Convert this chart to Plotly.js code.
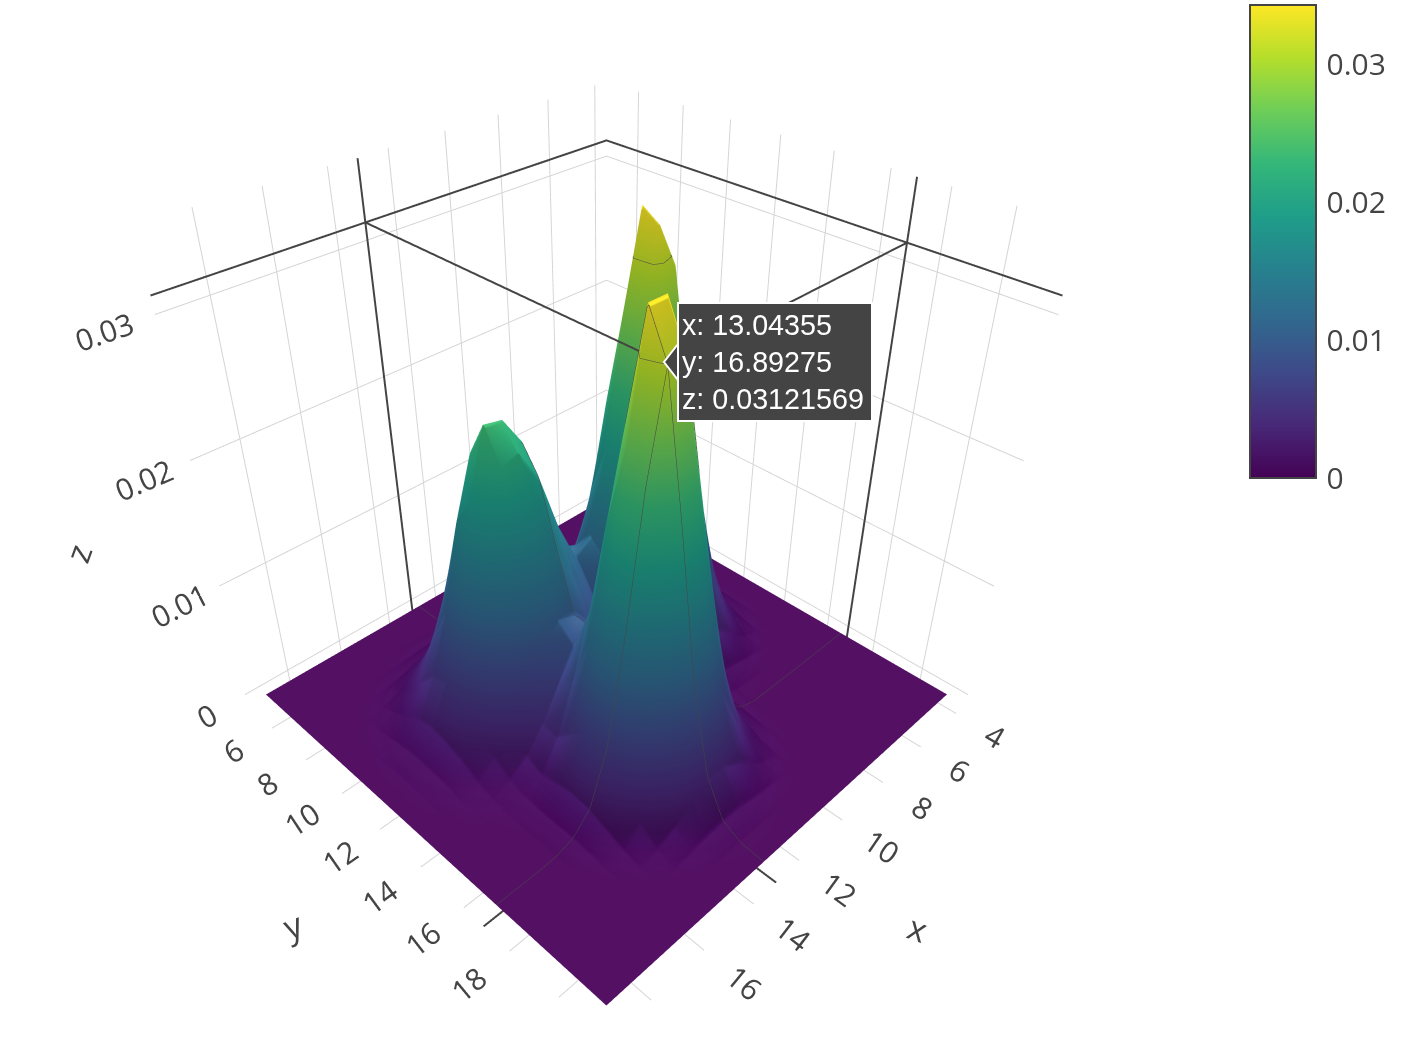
<!DOCTYPE html>
<html><head><meta charset="utf-8"><script src="https://cdn.plot.ly/plotly-3.0.1.min.js"></script>
<style>html,body{margin:0;padding:0;background:#fff;overflow:hidden}#g{width:1410px;height:1015px}</style></head>
<body><div id="g"></div><script>
const xs=[3.94,4.59,5.24,5.89,6.54,7.19,7.84,8.49,9.14,9.79,10.44,11.09,11.74,12.39,13.04355,13.69,14.34,14.99,15.64,16.29,16.94,17.59,18.24,18.89,19.1];
const ys=[4.99,5.69,6.39,7.09,7.79,8.49,9.19,9.89,10.59,11.29,11.99,12.69,13.39,14.09,14.79,15.49,16.19,16.89275,17.59,18.29,18.99,19.69,20.39,21.09,21.3];
const zUnit=1e-4;
const zRows=[
[0,0,0,0,0,0,0,0,0,0,0,0,0,0,0,0,0,0,0,0,0,0,0,0,0],
[0,0,0,0,0,0,0,0,0,0,0,0,0,0,0.2,0.2,0.2,0.2,0,0,0,0,0,0,0],
[0,0,0,0,0,0,0,0,0,0,0,0.2,0.5,0.7,1,1.1,1.1,0.8,0.5,0.3,0.1,0,0,0,0],
[0,0,0,0,0,0,0,0,0,0,0.4,0.9,1.8,3,4,4.7,4.4,3.4,2.2,1.2,0.5,0.2,0,0,0],
[0,0,0,0,0,0,0.3,0.4,0.4,0.8,1.4,3.1,6.1,10,14,16,15,11,7,4,2,0.7,0.2,0,0],
[0,0,0,0.1,0.4,1.1,2,3,3.4,3.8,4.9,8.9,16.6,27,37,41,39,30,20,10,5,2,0.5,0,0],
[0,0,0.2,0.6,2,5,10,14,16,15,15,21,36,58,79,89,84,65,42,22,10,4,1,0,0],
[0,0.1,0.5,2.3,7,18,34,48,53,47,39,43,65,100,136,154,150,113,73,39,17,6,2,0.3,0],
[0,0.2,1.4,6,19,46,87,124,136,116,86,75,96,141,189,214,210,165,101,54,24,9,3,0.5,0],
[0,0.4,2.5,11,35,86,161,230,250,211,146,107,116,160,212,234,237,185,113,60,27,10,3,0.6,0],
[0,0.6,3.4,15,47,116,217,311,343.5,281,189,124,114,147,192,216,210,165,102,54,24,9,3,0.6,0],
[0,0.6,3.3,14,46,114,213,305,335,275,182,112,93,112,143,159,148,115,74,39,18,7,2,0.4,0],
[0,0.4,2.4,10,33,82,152,218,236,197,130,82,69,82,99,104,93,70,44,23,10,4,1,0.2,0],
[0,0.2,1.2,5,17,42,79,113,123,105,77,63,72,89,98,89,67,43,24,12,5,2,0.5,0,0],
[0,0.1,0.5,2,6.5,16,30,43,48,47,51,76,118,156,161,129,81,41,17,7,2,0.7,0.2,0,0],
[0,0,0.2,0.5,1.8,4.3,8,11.5,16,26,54,113,195,260,265,205,122,56,20,6,1.4,0.2,0,0,0],
[0,0,0,0.1,0.3,0.8,1.6,2.2,7,22,62,141,248,342,342,260,153,68,23,6,1.2,0,0,0,0],
[0,0,0,0,0,0.3,0.5,0.7,5,19,57,132,232,311,312.1569,242,143,63,21,6,1.1,0,0,0,0],
[0,0,0,0,0,0,0,0.7,3,13,39,90,158,212,215,165,97,43,14,4,1,0.2,0,0,0],
[0,0,0,0,0,0,0,0.4,2,6,19,45,79,105,107,82,48,21,7,2,0.4,0,0,0,0],
[0,0,0,0,0,0,0,0.1,0.7,2,7,16,28,38,39,30,17,8,3,0.8,0.2,0,0,0,0],
[0,0,0,0,0,0,0,0,0.1,0.6,2,4,7,10,10,8,5,2,0.7,0.2,0,0,0,0,0],
[0,0,0,0,0,0,0,0,0,0,0.3,0.8,1.4,1.9,2,1.5,0.9,0.4,0.1,0,0,0,0,0,0],
[0,0,0,0,0,0,0,0,0,0,0,0,0.1,0.3,0.3,0.2,0.1,0,0,0,0,0,0,0,0],
[0,0,0,0,0,0,0,0,0,0,0,0,0,0,0,0,0,0,0,0,0,0,0,0,0]];
const zs=zRows.map(r=>r.map(v=>v*zUnit));
const xRange=[3.48,19.57],yRange=[4.49,21.81],zRange=[-0.00107,0.03542];
const hx=13.04355,hy=16.89275,hz=0.03121569;
const wx=xRange[0]+0.03,wy=yRange[0]+0.03,fz=zRange[0]+0.00004,tz=zRange[1]-0.00004;
const viridis=[[0,'#440154'],[0.1111,'#482878'],[0.2222,'#3e4989'],[0.3333,'#31688e'],[0.4444,'#26828e'],[0.5556,'#1f9e89'],[0.6667,'#35b779'],[0.7778,'#6ece58'],[0.8889,'#b5de2b'],[1,'#fde725']];
const ax=(tv,r)=>({title:{text:''},range:r,autorange:false,tickvals:tv,tickfont:{size:19},gridcolor:'#d4d4d4',gridwidth:2,zeroline:false,showline:false,ticks:'outside',ticklen:22,tickcolor:'rgba(255,255,255,0)',showspikes:false,showbackground:false});
const lx=[wx,wx,null,wx,wx,null,hx,hx,null,xRange[0],xRange[1],null,wx,hx,null,hx,hx,null,hx,hx,null,xRange[0],xRange[1]];
const ly=[hy,hy,null,yRange[0],yRange[1],null,wy,wy,null,wy,wy,null,hy,hy,null,wy,hy,null,yRange[0],yRange[1],null,hy,hy];
const lz=[fz,tz,null,hz,hz,null,fz,tz,null,hz,hz,null,hz,hz,null,hz,hz,null,fz,fz,null,fz,fz];
const one=(v,s)=>({show:true,start:v,end:v+s/2,size:s,color:'#444',width:4,highlight:false});
const W=1410,H=1015;
const lab=(t,px,py,ang)=>({xref:'paper',yref:'paper',x:px/W,y:1-py/H,xanchor:'center',yanchor:'middle',showarrow:false,text:t,textangle:ang,font:{size:34,color:'#444'}});
Plotly.newPlot('g',[{type:'surface',x:xs,y:ys,z:zs,colorscale:viridis,cmin:0,cmax:0.03435,hoverinfo:'x+y+z',
 contours:{x:one(hx,1),y:one(hy,1),z:one(hz,0.001)},
 colorbar:{x:1250/W,xanchor:'left',y:1-5/H,yanchor:'top',lenmode:'pixels',len:473,thicknessmode:'pixels',thickness:66,xpad:0,ypad:0,outlinecolor:'#444',outlinewidth:2,tickvals:[0,0.01,0.02,0.03],ticktext:['0','0.01','0.02','0.03'],tickfont:{size:30,color:'#444'},ticks:'outside',ticklen:4,tickcolor:'rgba(0,0,0,0)'}},
 {type:'scatter3d',mode:'lines',x:lx,y:ly,z:lz,line:{color:'#444',width:4},showlegend:false,hoverinfo:'skip'}],
 {width:W,height:H,margin:{l:0,r:0,t:0,b:0},paper_bgcolor:'#fff',font:{family:'"Open Sans",sans-serif',color:'#444'},
 scene:{domain:{x:[0,0.86],y:[0,1]},aspectmode:'cube',camera:{eye:{x:1.225,y:1.225,z:1.225},center:{x:0,y:0,z:-0.02}},
 xaxis:ax([4,6,8,10,12,14,16,18],xRange),yaxis:ax([6,8,10,12,14,16,18,20],yRange),zaxis:ax([0,0.01,0.02,0.03],zRange)},
 shapes:[{type:'path',xref:'paper',yref:'paper',path:`M ${678/W} ${1-344/H} L ${664/W} ${1-362/H} L ${678/W} ${1-380/H} Z`,fillcolor:'#444',line:{color:'#fff',width:2}}],
 annotations:[lab('x',918,928,20),lab('y',293,925,-20),lab('z',78,553,-70),
 {xref:'paper',yref:'paper',x:677/W,y:1-302/H,xanchor:'left',yanchor:'top',showarrow:false,align:'left',width:186,height:110,
  text:`x: ${hx}<br>y: ${hy}<br>z: ${hz}`,font:{family:'"Liberation Sans",Arial,sans-serif',size:28.7,color:'#fff'},bgcolor:'#444',bordercolor:'#fff',borderwidth:2,borderpad:3}]},{displayModeBar:false});
</script></body></html>
